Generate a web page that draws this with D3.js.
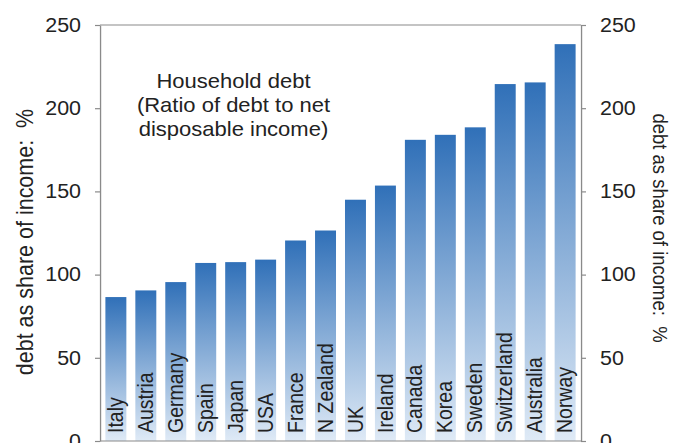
<!DOCTYPE html>
<html>
<head>
<meta charset="utf-8">
<script src="https://cdn.jsdelivr.net/npm/d3@7"></script>
<style>
  html, body { margin: 0; padding: 0; background: #fff; }
  svg { display: block; font-family: "Liberation Sans", Arial, sans-serif; }
</style>
</head>
<body>
<svg id="chart"></svg>
<script>
// Data
const countries = ['Italy', 'Austria', 'Germany', 'Spain', 'Japan', 'USA', 'France', 'N Zealand',
                   'UK', 'Ireland', 'Canada', 'Korea', 'Sweden', 'Switzerland', 'Australia', 'Norway'];
const debtRatio = [86.5, 90.5, 95.5, 107, 107.5, 109, 120.5, 126.5,
                   145, 153.5, 181, 184, 188.5, 214.5, 215.5, 238.5];
const yTicks = [0, 50, 100, 150, 200, 250];
const titleLines = ['Household debt', '(Ratio of debt to net', 'disposable income)'];
const yAxisLabel = 'debt as share of income:  %';

// Setup (the original picture is stretched a bit sideways)
const width = 673,
      height = 443,
      sx = 1.1,
      vbWidth = width / sx;

const plotLeft = 100 / sx, plotRight = 581 / sx, plotTop = 25, plotBottom = 441;
const axisColor = '#8a8a8a', textColor = '#222';

const svg = d3.select('#chart')
  .attr('width', width)
  .attr('height', height)
  .attr('viewBox', `0 0 ${vbWidth} ${height}`)
  .attr('preserveAspectRatio', 'none');

const x = d3.scaleBand()
  .domain(countries)
  .range([plotLeft, plotRight])
  .paddingInner(0.3)
  .paddingOuter(0.18);

const y = d3.scaleLinear()
  .domain([0, 250])
  .range([plotBottom, plotTop]);

// Gradient for bars
const grad = svg.append('defs').append('linearGradient')
  .attr('id', 'barGrad')
  .attr('x1', 0).attr('y1', 0)
  .attr('x2', 0).attr('y2', 1);
grad.append('stop').attr('offset', '0%').attr('stop-color', '#3070b8');
grad.append('stop').attr('offset', '100%').attr('stop-color', '#dfeaf6');

// Bars
svg.append('g')
  .selectAll('rect')
  .data(countries)
  .enter().append('rect')
  .attr('x', d => x(d))
  .attr('y', (d, i) => y(debtRatio[i]))
  .attr('width', x.bandwidth())
  .attr('height', (d, i) => y(0) - y(debtRatio[i]))
  .attr('fill', 'url(#barGrad)');

// Country names inside bars
svg.append('g')
  .selectAll('text')
  .data(countries)
  .enter().append('text')
  .attr('transform', d => `translate(${x(d) + x.bandwidth() / 2},${plotBottom - 8}) rotate(-90)`)
  .attr('dy', '0.33em')
  .attr('font-size', 19.5)
  .attr('fill', textColor)
  .text(d => d);

// Axes
const styleAxis = g => {
  g.attr('font-family', null);
  g.select('.domain').attr('stroke', axisColor).attr('stroke-width', 1.2);
  g.selectAll('.tick line').attr('stroke', axisColor).attr('stroke-width', 1.2);
  g.selectAll('.tick text').attr('fill', textColor).attr('font-size', 19.5);
};

svg.append('g')
  .attr('transform', `translate(${plotLeft},0)`)
  .call(d3.axisLeft(y).tickValues(yTicks).tickSizeInner(5 / sx).tickSizeOuter(0).tickPadding(14 / sx))
  .call(styleAxis);

svg.append('g')
  .attr('transform', `translate(${plotRight},0)`)
  .call(d3.axisRight(y).tickValues(yTicks).tickSizeInner(5 / sx).tickSizeOuter(0).tickPadding(14 / sx))
  .call(styleAxis);

// Top and bottom frame
[plotTop, plotBottom].forEach(v => {
  svg.append('line')
    .attr('x1', plotLeft).attr('x2', plotRight)
    .attr('y1', v).attr('y2', v)
    .attr('stroke', axisColor)
    .attr('stroke-width', 1.2);
});

// Title
svg.append('text')
  .attr('x', 233.5 / sx)
  .attr('y', 88)
  .attr('text-anchor', 'middle')
  .attr('font-size', 20)
  .attr('fill', textColor)
  .selectAll('tspan')
  .data(titleLines)
  .enter().append('tspan')
  .attr('x', 233.5 / sx)
  .attr('dy', (d, i) => i === 0 ? 0 : 24)
  .text(d => d);

// Axis titles
svg.append('text')
  .attr('transform', `translate(${33 / sx},242) rotate(-90)`)
  .attr('text-anchor', 'middle')
  .attr('font-size', 21.5)
  .attr('fill', textColor)
  .style('white-space', 'pre')
  .text(yAxisLabel);

svg.append('text')
  .attr('transform', `translate(${653 / sx},228) rotate(90)`)
  .attr('text-anchor', 'middle')
  .attr('font-size', 18.5)
  .attr('fill', textColor)
  .style('white-space', 'pre')
  .text(yAxisLabel);
</script>
</body>
</html>
